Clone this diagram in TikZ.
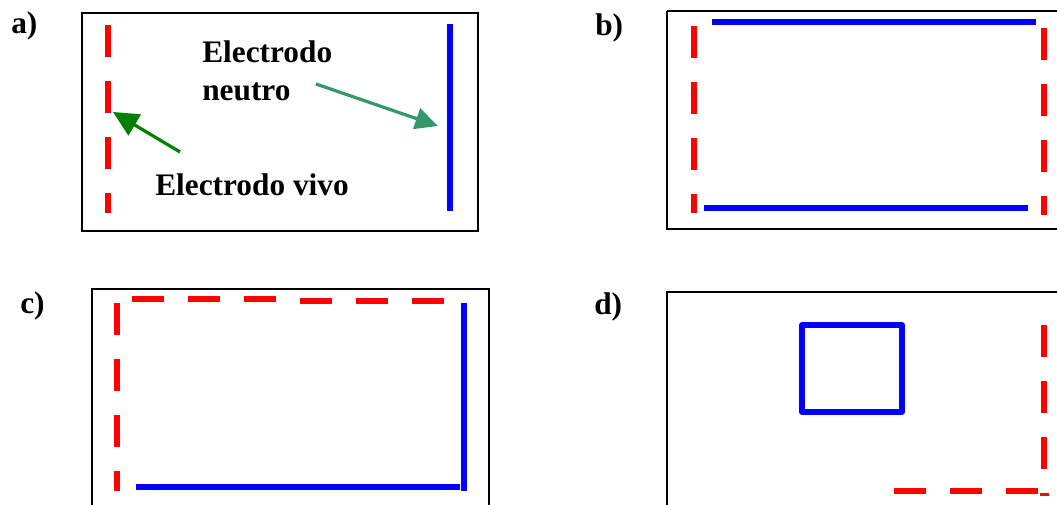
\documentclass[tikz,border=0pt]{standalone}
\usepackage{fontspec}
\setmainfont{Liberation Serif}
\usetikzlibrary{arrows.meta}
\definecolor{elred}{RGB}{255,0,0}
\definecolor{elblue}{RGB}{0,0,255}
\definecolor{vivogreen}{RGB}{0,128,0}
\definecolor{neutrogreen}{RGB}{52,153,104}
\tikzset{
  frame/.style={draw=black, line width=1.6pt},
  liveel/.style={draw=elred, line width=3.9pt, dash pattern=on 24pt off 18pt, line cap=butt},
  neutralel/.style={draw=elblue, line width=3.9pt, line cap=butt},
  lbl/.style={anchor=base west, inner sep=0pt, font=\fontsize{23.5}{28}\selectfont\bfseries},
  vivoarrow/.style={draw=vivogreen, line width=2.4pt, -{Triangle[length=19pt,width=18pt]}},
  neutroarrow/.style={draw=neutrogreen, line width=2.4pt, -{Triangle[length=17pt,width=16pt]}}
}
\begin{document}
\begin{tikzpicture}[x=0.75pt,y=-0.75pt]
\useasboundingbox (0,0) rectangle (1057,504);
\clip (0,0) rectangle (1057,504);
% ---------- a)
\node[lbl] (la) at (11,33) {a)};
\draw[frame] (82,13) rectangle (478,231);
\draw[liveel] (108,25) -- (108,213);
\draw[neutralel] (450,24) -- (450,211);
\node[lbl] (tneu1) at (202,62) {Electrodo};
\node[lbl] (tneu2) at (202,100) {neutro};
\node[lbl] (tvivo) at (155,195) {Electrodo vivo};
\coordinate (vivoTail) at (180,152);
\coordinate (vivoTip) at (113,112);
\coordinate (neuTail) at (316,84);
\coordinate (neuTip) at (438,126);
\draw[vivoarrow] (vivoTail) -- (vivoTip);
\draw[neutroarrow] (neuTail) -- (neuTip);
% ---------- b)
\node[lbl] (lb) at (595,35) {b)};
\draw[frame] (667,11) -- (1070,11) (667,11) -- (667,229) -- (1070,229);
\draw[neutralel] (712,22) -- (1036,22);
\draw[neutralel] (704,208) -- (1028,208);
\draw[liveel] (694,26) -- (694,213);
\draw[liveel] (1044,28) -- (1044,215);
% ---------- c)
\node[lbl] (lc) at (20,313) {c)};
\draw[frame] (92,520) -- (92,289) -- (489,289) -- (489,520);
\draw[liveel] (132,299) -- (277,299);
\draw[liveel] (300,301) -- (445,301);
\draw[liveel] (117,303) -- (117,491);
\draw[neutralel] (464,303) -- (464,491);
\draw[neutralel] (136,487) -- (460,487);
% ---------- d)
\node[lbl] (ld) at (594,314) {d)};
\draw[frame] (667,520) -- (667,292) -- (1070,292);
\draw[neutralel, line join=round] (802,325) rectangle (902,412);
\draw[liveel] (1044,325) -- (1044,470);
\draw[liveel] (894,491) -- (1039,491);
\draw[draw=elred, line width=2.5pt] (1040,494.5) -- (1049,494.5);
\end{tikzpicture}
\end{document}
